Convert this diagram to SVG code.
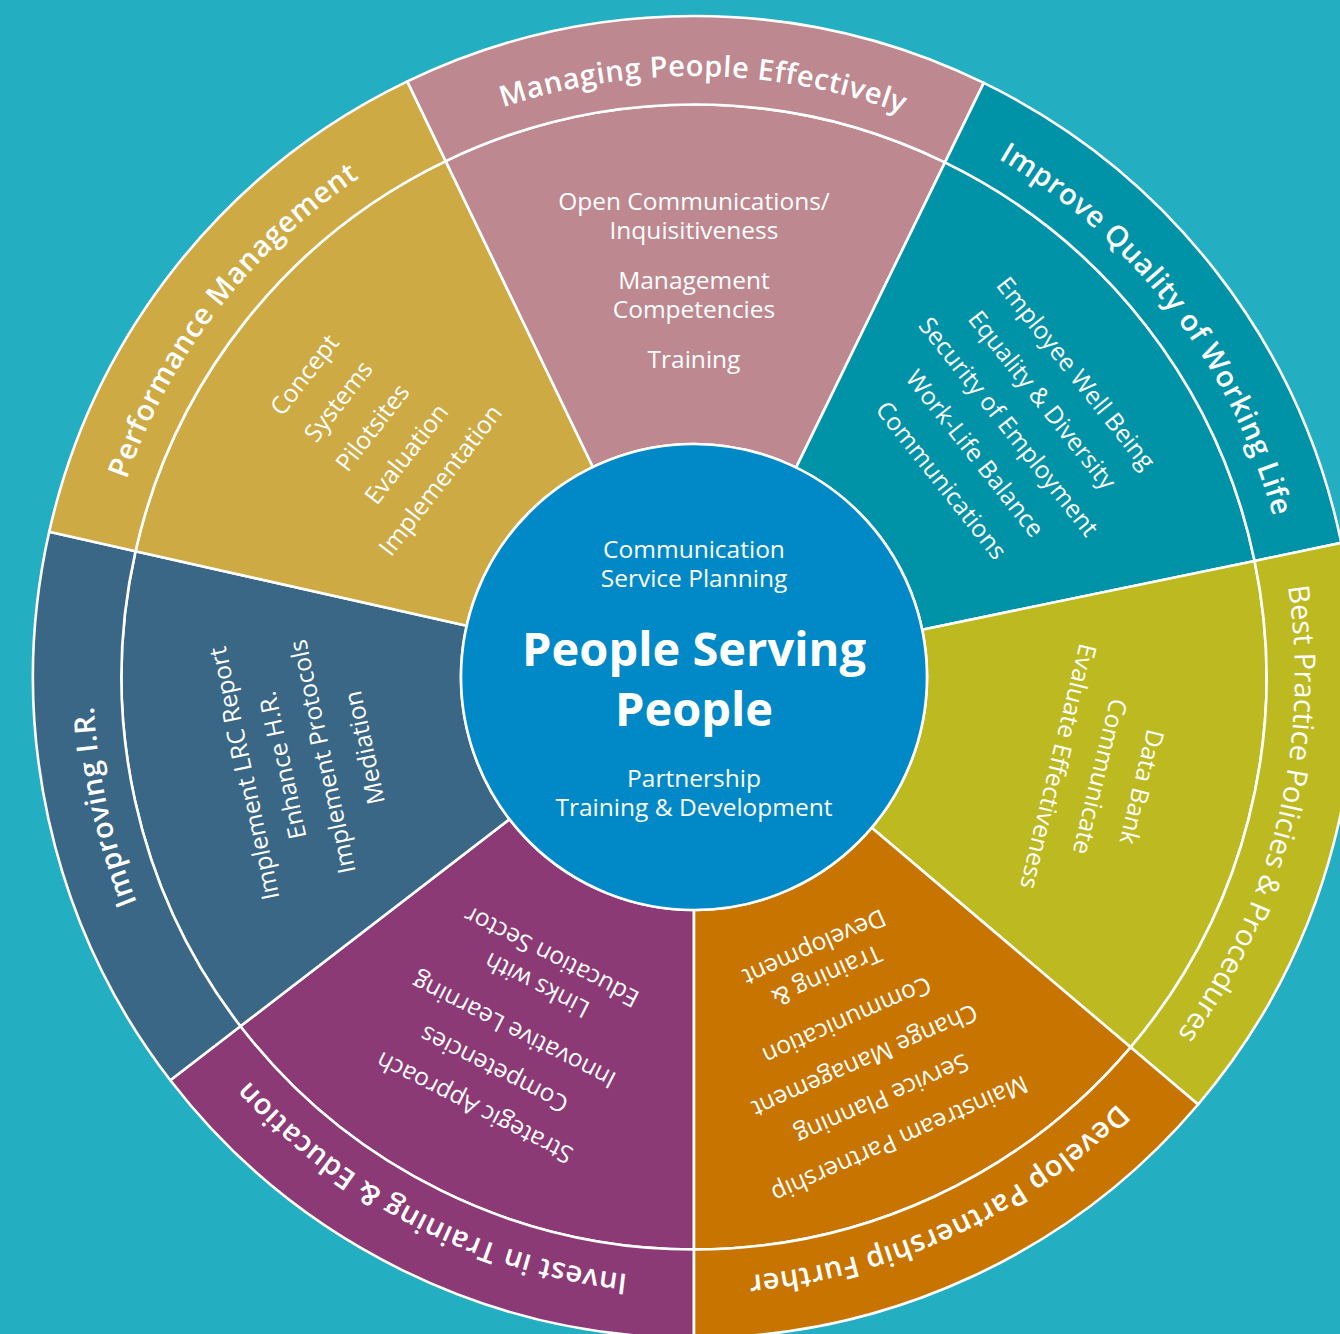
<svg xmlns="http://www.w3.org/2000/svg" xmlns:xlink="http://www.w3.org/1999/xlink" width="1340" height="1334" viewBox="0 0 1340 1334">
  <defs>
    <style>
      .seg { stroke: #ffffff; stroke-width: 2.6; stroke-linejoin: round; }
      .item { font-family: "Open Sans", "Noto Sans", sans-serif; font-size: 24.5px; fill: #ffffff; text-anchor: middle; }
      .title { font-family: "Open Sans", "Noto Sans", sans-serif; font-size: 29px; font-weight: 600; fill: #ffffff; letter-spacing: 0.6px; }
      .title-light { font-family: "Open Sans", "Noto Sans", sans-serif; font-size: 29px; fill: #ffffff; }
      .hub-small { font-family: "Open Sans", "Noto Sans", sans-serif; font-size: 24.5px; fill: #ffffff; text-anchor: middle; }
      .hub-big { font-family: "Open Sans", "Noto Sans", sans-serif; font-size: 47px; font-weight: bold; fill: #ffffff; text-anchor: middle; }
    </style>
    <!-- clockwise arc over the top of the wheel, radius 601; titles are rotated onto it -->
    <path id="titleArc" d="M95.3,624.6 A601,601 0 0 1 1292.7,624.6" fill="none"/>
  </defs>

  <rect x="0" y="0" width="1340" height="1334" fill="#23AEC1"/>

  <!-- Invest in Training & Education -->
  <g id="invest">
    <path class="seg" fill="#8C3A76" d="M694,910 L694,1249.5 A572.5,572.5 0 0 1 240.4,1026.3 L509.4,819.2 A233,233 0 0 0 694,910 Z"/>
    <path class="seg" fill="#8C3A76" d="M694,1249.5 L694,1338 A661,661 0 0 1 170.3,1080.3 L240.4,1026.3 A572.5,572.5 0 0 0 694,1249.5 Z"/>
    <text class="title" transform="rotate(-152.9 694 677)"><textPath href="#titleArc" xlink:href="#titleArc" startOffset="50%" text-anchor="middle">Invest in Training &amp; Education</textPath></text>
    <g transform="rotate(-153 694 677)">
      <text class="item" x="694" y="202">Strategic Approach</text>
      <text class="item" x="694" y="245">Competencies</text>
      <text class="item" x="694" y="288.5">Innovative Learning</text>
      <text class="item" x="694" y="339.5">Links with</text>
      <text class="item" x="694" y="371.5">Education Sector</text>
    </g>
  </g>

  <!-- Improving I.R. -->
  <g id="improving-ir">
    <path class="seg" fill="#3B6787" d="M509.4,819.2 L240.4,1026.3 A572.5,572.5 0 0 1 135.5,551.2 L466.7,625.8 A233,233 0 0 0 509.4,819.2 Z"/>
    <path class="seg" fill="#3B6787" d="M240.4,1026.3 L170.3,1080.3 A661,661 0 0 1 49.2,531.7 L135.5,551.2 A572.5,572.5 0 0 0 240.4,1026.3 Z"/>
    <text class="title" transform="rotate(-102.4 694 677)"><textPath href="#titleArc" xlink:href="#titleArc" startOffset="50%" text-anchor="middle">Improving I.R.</textPath></text>
    <g transform="rotate(-102.1 694 677)">
      <text class="item" x="694" y="225.5">Implement LRC Report</text>
      <text class="item" x="694" y="264.5">Enhance H.R.</text>
      <text class="item" x="694" y="305.5">Implement Protocols</text>
      <text class="item" x="694" y="348.5">Mediation</text>
    </g>
  </g>

  <!-- Performance Management -->
  <g id="performance-management">
    <path class="seg" fill="#CEAA45" d="M466.7,625.8 L135.5,551.2 A572.5,572.5 0 0 1 445.7,161.1 L592.9,467 A233,233 0 0 0 466.7,625.8 Z"/>
    <path class="seg" fill="#CEAA45" d="M135.5,551.2 L49.2,531.7 A661,661 0 0 1 407.3,81.4 L445.7,161.1 A572.5,572.5 0 0 0 135.5,551.2 Z"/>
    <text class="title" transform="rotate(-52.3 694 677)"><textPath href="#titleArc" xlink:href="#titleArc" startOffset="50%" text-anchor="middle">Performance Management</textPath></text>
    <g transform="rotate(-52.2 694 677)">
      <text class="item" x="694" y="192.5">Concept</text>
      <text class="item" x="694" y="235.5">Systems</text>
      <text class="item" x="694" y="278.5">Pilotsites</text>
      <text class="item" x="694" y="321.5">Evaluation</text>
      <text class="item" x="694" y="364.5">Implementation</text>
    </g>
  </g>

  <!-- Managing People Effectively -->
  <g id="managing-people">
    <path class="seg" fill="#BE8890" d="M592.9,467 L445.7,161.1 A572.5,572.5 0 0 1 945,162.4 L796.1,467.6 A233,233 0 0 0 592.9,467 Z"/>
    <path class="seg" fill="#BE8890" d="M445.7,161.1 L407.3,81.4 A661,661 0 0 1 983.8,82.9 L945,162.4 A572.5,572.5 0 0 0 445.7,161.1 Z"/>
    <text class="title" transform="rotate(0.9 694 677)"><textPath href="#titleArc" xlink:href="#titleArc" startOffset="50%" text-anchor="middle">Managing People Effectively</textPath></text>
    <g>
      <text class="item" x="694" y="209.5">Open Communications/</text>
      <text class="item" x="694" y="238.5">Inquisitiveness</text>
      <text class="item" x="694" y="288.5">Management</text>
      <text class="item" x="694" y="317.5">Competencies</text>
      <text class="item" x="694" y="367.5">Training</text>
    </g>
  </g>

  <!-- Improve Quality of Working Life -->
  <g id="quality-of-working-life">
    <path class="seg" fill="#0093A7" d="M796.1,467.6 L945,162.4 A572.5,572.5 0 0 1 1254.6,560.9 L922.2,629.7 A233,233 0 0 0 796.1,467.6 Z"/>
    <path class="seg" fill="#0093A7" d="M945,162.4 L983.8,82.9 A661,661 0 0 1 1341.3,542.9 L1254.6,560.9 A572.5,572.5 0 0 0 945,162.4 Z"/>
    <text class="title" transform="rotate(52.5 694 677)"><textPath href="#titleArc" xlink:href="#titleArc" startOffset="50%" text-anchor="middle">Improve Quality of Working Life</textPath></text>
    <g transform="rotate(51.5 694 677)">
      <text class="item" x="694" y="197.5">Employee Well Being</text>
      <text class="item" x="694" y="240.5">Equality &amp; Diversity</text>
      <text class="item" x="694" y="283.5">Security of Employment</text>
      <text class="item" x="694" y="326.5">Work-Life Balance</text>
      <text class="item" x="694" y="369.5">Communications</text>
    </g>
  </g>

  <!-- Best Practice Policies & Procedures -->
  <g id="best-practice">
    <path class="seg" fill="#BDB921" d="M922.2,629.7 L1254.6,560.9 A572.5,572.5 0 0 1 1130.6,1047.3 L871.7,827.7 A233,233 0 0 0 922.2,629.7 Z"/>
    <path class="seg" fill="#BDB921" d="M1254.6,560.9 L1341.3,542.9 A661,661 0 0 1 1198.1,1104.5 L1130.6,1047.3 A572.5,572.5 0 0 0 1254.6,560.9 Z"/>
    <text class="title-light" transform="rotate(103.9 694 677)"><textPath href="#titleArc" xlink:href="#titleArc" startOffset="50%" text-anchor="middle">Best Practice Policies &amp; Procedures</textPath></text>
    <g transform="rotate(103.8 694 677)">
      <text class="item" x="694" y="224.5">Data Bank</text>
      <text class="item" x="694" y="267.5">Communicate</text>
      <text class="item" x="694" y="310.5">Evaluate Effectiveness</text>
    </g>
  </g>

  <!-- Develop Partnership Further -->
  <g id="develop-partnership">
    <path class="seg" fill="#C77500" d="M871.7,827.7 L1130.6,1047.3 A572.5,572.5 0 0 1 694,1249.5 L694,910 A233,233 0 0 0 871.7,827.7 Z"/>
    <path class="seg" fill="#C77500" d="M1130.6,1047.3 L1198.1,1104.5 A661,661 0 0 1 694,1338 L694,1249.5 A572.5,572.5 0 0 0 1130.6,1047.3 Z"/>
    <text class="title" transform="rotate(155 694 677)"><textPath href="#titleArc" xlink:href="#titleArc" startOffset="50%" text-anchor="middle">Develop Partnership Further</textPath></text>
    <g transform="rotate(156 694 677)">
      <text class="item" x="694" y="179.5">Mainstream Partnership</text>
      <text class="item" x="694" y="223.5">Service Planning</text>
      <text class="item" x="694" y="265.5">Change Management</text>
      <text class="item" x="694" y="309.5">Communication</text>
      <text class="item" x="694" y="358.5">Training &amp;</text>
      <text class="item" x="694" y="389.5">Development</text>
    </g>
  </g>

  <!-- hub -->
  <g id="hub">
    <circle cx="694" cy="677" r="233" fill="#0089C6" stroke="#ffffff" stroke-width="2.6"/>
    <text class="hub-small" x="694" y="558">Communication</text>
    <text class="hub-small" x="694" y="587">Service Planning</text>
    <text class="hub-big" x="694" y="666">People Serving</text>
    <text class="hub-big" x="694" y="726">People</text>
    <text class="hub-small" x="694" y="787">Partnership</text>
    <text class="hub-small" x="694" y="816">Training &amp; Development</text>
  </g>

  <g id="connectors"/>
</svg>
